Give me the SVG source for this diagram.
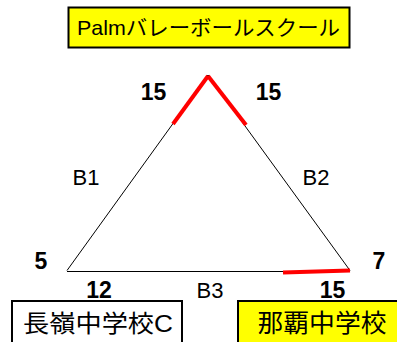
<svg xmlns="http://www.w3.org/2000/svg" width="397" height="342" viewBox="0 0 397 342">
<style>
.lbl{font-family:"Liberation Sans","Noto Sans CJK JP",sans-serif;fill:#000}
.num{font-family:"Liberation Sans",sans-serif;font-weight:bold;font-size:23px;fill:#000}
.edge{font-family:"Liberation Sans",sans-serif;font-size:22px;fill:#000}
.box{stroke:#000;stroke-width:2}
.thin{stroke:#000;stroke-width:1;fill:none}
.red{stroke:#ff0000;stroke-width:4;fill:none}
</style>
<rect x="0" y="0" width="397" height="342" fill="#fff"/>
<g id="title">
<rect class="box" x="68.5" y="7.5" width="281" height="40" fill="#ffff00"/>
<text class="lbl" x="208.5" y="35" font-size="21" text-anchor="middle" textLength="263" lengthAdjust="spacingAndGlyphs">Palmバレーボールスクール</text>
</g>
<g id="nagamine">
<rect class="box" x="12" y="301" width="170" height="50" fill="#fff"/>
<text class="lbl" x="98" y="332" font-size="24" text-anchor="middle" textLength="150" lengthAdjust="spacingAndGlyphs">長嶺中学校C</text>
</g>
<g id="naha">
<rect class="box" x="238" y="301" width="170" height="50" fill="#ffff00"/>
<text class="lbl" x="322" y="332" font-size="25" text-anchor="middle" textLength="129" lengthAdjust="spacingAndGlyphs">那覇中学校</text>
</g>
<g id="connectors">
<line class="thin" x1="67" y1="270.5" x2="208" y2="75"/>
<line class="thin" x1="208" y1="75" x2="350" y2="270.5"/>
<line class="thin" x1="67" y1="271.5" x2="350" y2="271.5"/>
<line class="red" x1="173" y1="124" x2="208" y2="76"/>
<line class="red" x1="208" y1="76" x2="246" y2="125"/>
<line class="red" x1="283" y1="272.5" x2="350" y2="270.5"/>
</g>
<g id="labels">
<text class="num" x="153.5" y="99.5" text-anchor="middle">15</text>
<text class="num" x="268.5" y="99.5" text-anchor="middle">15</text>
<text class="edge" x="86" y="184.5" text-anchor="middle">B1</text>
<text class="edge" x="316" y="184.5" text-anchor="middle">B2</text>
<text class="num" x="41" y="268.5" text-anchor="middle">5</text>
<text class="num" x="379" y="268.5" text-anchor="middle">7</text>
<text class="num" x="99" y="297.5" text-anchor="middle">12</text>
<text class="edge" x="210" y="297.5" text-anchor="middle">B3</text>
<text class="num" x="332.5" y="297.5" text-anchor="middle">15</text>
</g>
</svg>
